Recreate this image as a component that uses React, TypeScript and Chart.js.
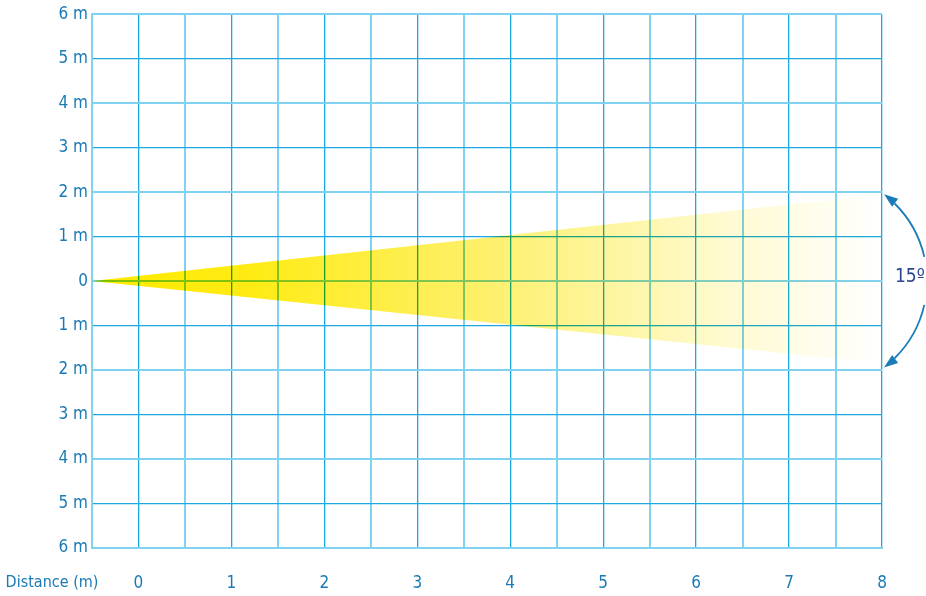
import React, { useEffect, useRef } from "react";
import { Chart, registerables } from "chart.js";

Chart.register(...registerables);

// Data
const xTickValues = [-0.5, 0, 1, 2, 3, 4, 5, 6, 7, 8];
const yTickValues = [6, 5, 4, 3, 2, 1, 0, -1, -2, -3, -4, -5, -6];
const coneApex = { x: -0.5, y: 0 };
const coneTopEnd = { x: 8, y: 1.95 };
const coneBottomEnd = { x: 8, y: -1.85 };
const beamAngleLabel = "15º";
const xAxisLabel = "Distance (m)";

const FONT = '"Liberation Sans Narrow", "DejaVu Sans Condensed", "Noto Sans", sans-serif';
const LABEL_COLOR = "#1a7ab5";
const GRID_DARK = "#1aa8de";
const GRID_LIGHT = "#80d2f2";

export default function App() {
  const ref = useRef<HTMLCanvasElement | null>(null);

  useEffect(() => {
    if (!ref.current) return;

    const multiplyPlugin = {
      id: "multiplyFill",
      beforeDatasetsDraw(chart: any) {
        chart.ctx.save();
        chart.ctx.globalCompositeOperation = "multiply";
      },
      afterDatasetsDraw(chart: any) {
        chart.ctx.restore();
      },
    };

    const annotPlugin = {
      id: "annot",
      afterDraw(chart: any) {
        const { ctx, chartArea, scales } = chart;
        const x = scales.x;
        const y = scales.y;
        ctx.save();
        // x axis label
        ctx.font = `16px ${FONT}`;
        ctx.fillStyle = LABEL_COLOR;
        ctx.textAlign = "center";
        ctx.textBaseline = "middle";
        ctx.fillText(xAxisLabel, 52, chartArea.bottom + 35);

        // beam angle arc
        const xe = x.getPixelForValue(coneTopEnd.x) + 2;
        const yTop = y.getPixelForValue(coneTopEnd.y);
        const yBot = y.getPixelForValue(coneBottomEnd.y) + 4;
        const cy = (yTop + yBot) / 2;
        const h = (yBot - yTop) / 2;
        const a = 43;
        const r = (h * h + a * a) / (2 * a);
        const cx = xe + a - r;
        const t1 = Math.atan2(yTop - cy, xe - cx);
        const t2 = Math.atan2(yBot - cy, xe - cx);
        const gap = Math.asin(24 / r);
        ctx.strokeStyle = "#1b7db8";
        ctx.fillStyle = "#1b7db8";
        ctx.lineWidth = 1.8;
        const head = 14;
        const hw = 5;
        const headAng = head / r;
        ctx.beginPath();
        ctx.arc(cx, cy, r, t1 + headAng, -gap);
        ctx.stroke();
        ctx.beginPath();
        ctx.arc(cx, cy, r, gap, t2 - headAng);
        ctx.stroke();
        const drawHead = (tx: number, ty: number, dx: number, dy: number) => {
          const bx = tx - dx * head;
          const by = ty - dy * head;
          ctx.beginPath();
          ctx.moveTo(tx, ty);
          ctx.lineTo(bx - dy * hw, by + dx * hw);
          ctx.lineTo(bx + dy * hw, by - dx * hw);
          ctx.closePath();
          ctx.fill();
        };
        drawHead(xe, yTop, Math.sin(t1), -Math.cos(t1));
        drawHead(xe, yBot, -Math.sin(t2), Math.cos(t2));

        ctx.font = `19px ${FONT}`;
        ctx.fillStyle = "#2b4591";
        ctx.textAlign = "left";
        ctx.textBaseline = "middle";
        ctx.fillText(beamAngleLabel, chartArea.right + 13, cy - 4);
        ctx.restore();
      },
    };

    const chart = new Chart(ref.current, {
      type: "scatter",
      data: {
        datasets: [
          {
            data: [coneApex, coneTopEnd],
            showLine: true,
            borderWidth: 0,
            borderColor: "rgba(0,0,0,0)",
            pointRadius: 0,
            fill: "+1",
            backgroundColor: (c: any) => {
              const area = c.chart.chartArea;
              if (!area) return "#ffec00";
              const g = c.chart.ctx.createLinearGradient(area.left, 0, area.right, 0);
              g.addColorStop(0, "#ffea00");
              g.addColorStop(0.2, "#ffeb14");
              g.addColorStop(0.5, "#fdf06c");
              g.addColorStop(0.8, "#fffad0");
              g.addColorStop(1, "#ffffff");
              return g;
            },
          },
          {
            data: [coneApex, coneBottomEnd],
            showLine: true,
            borderWidth: 0,
            borderColor: "rgba(0,0,0,0)",
            pointRadius: 0,
            fill: false,
          },
        ],
      },
      options: {
        responsive: false,
        animation: false,
        layout: { padding: { left: 0, right: 44, top: 12, bottom: 0 } },
        plugins: { legend: { display: false }, tooltip: { enabled: false } },
        scales: {
          x: {
            type: "linear",
            min: -0.5,
            max: 8,
            afterFit(s: any) {
              s.height = 48;
            },
            afterBuildTicks(s: any) {
              const vals: number[] = [];
              for (let v = -0.5; v <= 8.001; v += 0.5) vals.push(v);
              s.ticks = vals.map((v) => ({ value: v }));
            },
            ticks: {
              padding: 25,
              maxRotation: 0,
              autoSkip: false,
              color: LABEL_COLOR,
              font: { family: FONT, size: 17 },
              callback: (v: any) =>
                Number.isInteger(v) && xTickValues.includes(v) ? String(v) : "",
            },
            grid: {
              drawTicks: false,
              color: (c: any) =>
                c.tick && Number.isInteger(c.tick.value) ? GRID_DARK : GRID_LIGHT,
              lineWidth: (c: any) =>
                c.tick && Number.isInteger(c.tick.value) ? 1.3 : 2,
            },
            border: { color: GRID_LIGHT, width: 2 },
          },
          y: {
            type: "linear",
            min: -6,
            max: 6,
            afterFit(s: any) {
              s.width = 92;
            },
            afterBuildTicks(s: any) {
              s.ticks = yTickValues.slice().reverse().map((v) => ({ value: v }));
            },
            ticks: {
              padding: 4,
              autoSkip: false,
              color: LABEL_COLOR,
              font: { family: FONT, size: 17 },
              callback: (v: any) => (v === 0 ? "0" : `${Math.abs(v)} m`),
            },
            grid: {
              drawTicks: false,
              color: (c: any) =>
                c.tick && Math.abs(c.tick.value) % 2 === 1 ? GRID_DARK : GRID_LIGHT,
              lineWidth: (c: any) =>
                c.tick && Math.abs(c.tick.value) % 2 === 1 ? 1.3 : 2,
            },
            border: { color: GRID_LIGHT, width: 2 },
          },
        },
      },
      plugins: [multiplyPlugin, annotPlugin],
    } as any);

    return () => chart.destroy();
  }, []);

  return (
    <div style={{ position: "absolute", left: 0, top: 0, width: 926, height: 596, background: "#fff" }}>
      <canvas ref={ref} width={926} height={596} style={{ width: 926, height: 596 }} />
    </div>
  );
}
